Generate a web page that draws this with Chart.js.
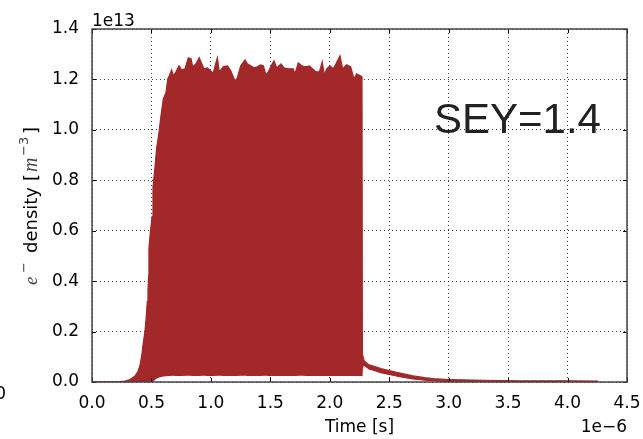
<!DOCTYPE html>
<html>
<head>
<meta charset="utf-8">
<script src="https://cdn.jsdelivr.net/npm/chart.js@4/dist/chart.umd.min.js"></script>
<style>
  html, body { margin: 0; padding: 0; background: #fff; }
  canvas { display: block; }
</style>
</head>
<body>
<canvas id="densityChart" width="643" height="439"></canvas>
<script>
// time in units of 1e-6 s, density in units of 1e13 m^-3
const timeE6 = [
  0.000, 0.100, 0.200, 0.235, 0.278, 0.320, 0.362, 0.385, 0.404, 0.420,
  0.429, 0.445, 0.454, 0.465, 0.471, 0.476, 0.479, 0.492, 0.505, 0.513,
  0.530, 0.544, 0.563, 0.578, 0.600, 0.622, 0.637, 0.650, 0.670, 0.684,
  0.706, 0.732, 0.754, 0.782, 0.810, 0.833, 0.847, 0.875, 0.902, 0.923,
  0.942, 0.970, 0.998, 1.020, 1.054, 1.071, 1.104, 1.141, 1.167, 1.203,
  1.222, 1.251, 1.287, 1.306, 1.335, 1.362, 1.390, 1.419, 1.441, 1.463,
  1.483, 1.511, 1.531, 1.553, 1.590, 1.615, 1.651, 1.693, 1.707, 1.735,
  1.764, 1.800, 1.828, 1.856, 1.884, 1.912, 1.937, 1.954, 1.974, 2.002,
  2.029, 2.052, 2.086, 2.108, 2.142, 2.176, 2.204, 2.226, 2.260, 2.271,
  2.274, 2.290, 2.330, 2.380, 2.430, 2.500, 2.600, 2.700, 2.800, 2.900,
  3.000, 3.300, 3.600, 4.000, 4.256
];
const upperE13 = [
  0.000, 0.000, 0.001, 0.002, 0.004, 0.010, 0.024, 0.040, 0.067, 0.110,
  0.147, 0.200, 0.246, 0.320, 0.365, 0.420, 0.532, 0.600, 0.655, 0.774,
  0.853, 0.929, 0.988, 1.048, 1.124, 1.147, 1.202, 1.215, 1.238, 1.214,
  1.230, 1.254, 1.238, 1.242, 1.286, 1.282, 1.250, 1.262, 1.286, 1.262,
  1.242, 1.246, 1.234, 1.226, 1.286, 1.230, 1.250, 1.254, 1.234, 1.194,
  1.206, 1.254, 1.278, 1.262, 1.254, 1.246, 1.250, 1.258, 1.254, 1.218,
  1.230, 1.258, 1.274, 1.246, 1.262, 1.246, 1.242, 1.242, 1.222, 1.266,
  1.254, 1.250, 1.254, 1.242, 1.230, 1.230, 1.270, 1.218, 1.242, 1.254,
  1.242, 1.262, 1.294, 1.242, 1.258, 1.250, 1.202, 1.222, 1.214, 1.210,
  0.110, 0.083, 0.068, 0.061, 0.053, 0.045, 0.034, 0.024, 0.017, 0.012,
  0.010, 0.007, 0.005, 0.005, 0.004
];
const lowerE13 = [
  0.000, 0.000, 0.000, 0.000, 0.000, 0.000, 0.000, 0.000, 0.000, 0.000,
  0.000, 0.000, 0.000, 0.000, 0.000, 0.000, 0.000, 0.000, 0.000, 0.004,
  0.012, 0.016, 0.020, 0.022, 0.024, 0.025, 0.026, 0.026, 0.027, 0.027,
  0.026, 0.027, 0.026, 0.027, 0.028, 0.027, 0.026, 0.027, 0.026, 0.027,
  0.028, 0.026, 0.027, 0.026, 0.027, 0.028, 0.026, 0.027, 0.026, 0.027,
  0.026, 0.027, 0.028, 0.026, 0.027, 0.026, 0.027, 0.026, 0.027, 0.028,
  0.026, 0.027, 0.026, 0.027, 0.026, 0.027, 0.026, 0.027, 0.026, 0.027,
  0.028, 0.026, 0.027, 0.026, 0.027, 0.026, 0.027, 0.026, 0.027, 0.026,
  0.027, 0.026, 0.027, 0.026, 0.027, 0.026, 0.027, 0.026, 0.027, 0.026,
  0.062, 0.066, 0.052, 0.045, 0.037, 0.030, 0.020, 0.012, 0.007, 0.004,
  0.002, 0.001, 0.000, 0.000, 0.000
];
const xTicks = [0, 0.5, 1, 1.5, 2, 2.5, 3, 3.5, 4, 4.5];
const yTicks = [0, 0.2, 0.4, 0.6, 0.8, 1.0, 1.2, 1.4];

const red = '#a3282a';
const tickFont = { family: 'DejaVu Sans', size: 17 };

const toPoints = ys => timeE6.map((t, i) => ({ x: t, y: ys[i] }));

// y axis label pieces (mathtext style), placed by their start row
const yLabelPieces = [
  { s: 'e', f: 'italic 19px "Liberation Serif"', at: 285, dy: 0, c: '#444' },
  { s: '\u2212', f: '13px "DejaVu Sans"', at: 273, dy: -9, c: '#444' },
  { s: 'density', f: '18px "DejaVu Sans"', at: 253, dy: 0, c: '#000' },
  { s: '[', f: '18px "DejaVu Sans"', at: 181, dy: 0, c: '#000' },
  { s: 'm', f: 'italic 20px "Liberation Serif"', at: 172, dy: 0, c: '#444' },
  { s: '\u22123', f: '13px "DejaVu Sans"', at: 156, dy: -9, c: '#444' },
  { s: ']', f: '18px "DejaVu Sans"', at: 134, dy: 0, c: '#000' }
];

// frame, inward ticks and all the text around the axes
const decorations = {
  id: 'decorations',
  afterDraw(chart) {
    const { ctx, chartArea: a, scales } = chart;
    ctx.save();

    // inward tick marks on all four sides
    ctx.strokeStyle = '#000';
    ctx.lineWidth = 1;
    ctx.beginPath();
    xTicks.forEach(v => {
      const x = Math.round(scales.x.getPixelForValue(v)) + 0.5;
      ctx.moveTo(x, a.bottom); ctx.lineTo(x, a.bottom - 4);
      ctx.moveTo(x, a.top); ctx.lineTo(x, a.top + 4);
    });
    yTicks.forEach(v => {
      const y = Math.round(scales.y.getPixelForValue(v)) + 0.5;
      ctx.moveTo(a.left, y); ctx.lineTo(a.left + 4, y);
      ctx.moveTo(a.right, y); ctx.lineTo(a.right - 4, y);
    });
    ctx.stroke();

    ctx.strokeStyle = '#444';
    ctx.lineWidth = 1.5;
    ctx.strokeRect(a.left, a.top, a.right - a.left, a.bottom - a.top);

    ctx.fillStyle = '#000';
    ctx.textBaseline = 'alphabetic';
    ctx.font = '17px "DejaVu Sans"';
    ctx.textAlign = 'left';
    ctx.fillText('1e13', a.left, 26);
    ctx.textAlign = 'right';
    ctx.fillText('1e\u22126', a.right, 432);
    ctx.fillText('0', 6, 399);
    ctx.textAlign = 'center';
    ctx.fillText('Time [s]', (a.left + a.right) / 2, 432);

    // rotated y label, read bottom to top
    ctx.translate(37, 0);
    ctx.rotate(-Math.PI / 2);
    ctx.textAlign = 'left';
    yLabelPieces.forEach(p => {
      ctx.font = p.f;
      ctx.fillStyle = p.c;
      ctx.fillText(p.s, -p.at, p.dy);
    });
    ctx.restore();

    ctx.save();
    ctx.fillStyle = '#222';
    ctx.font = '42px "Liberation Sans"';
    ctx.textAlign = 'left';
    ctx.fillText('SEY=1.4', 434, 133);
    ctx.restore();
  }
};

new Chart(document.getElementById('densityChart'), {
  type: 'line',
  data: {
    datasets: [{
      label: 'upper',
      data: toPoints(upperE13),
      borderColor: red,
      backgroundColor: red,
      borderWidth: 1.2,
      pointRadius: 0,
      tension: 0,
      fill: '+1'
    }, {
      label: 'lower',
      data: toPoints(lowerE13),
      borderColor: red,
      backgroundColor: red,
      borderWidth: 1.2,
      pointRadius: 0,
      tension: 0,
      fill: false
    }]
  },
  options: {
    responsive: false,
    animation: false,
    layout: { padding: { left: 0, right: 16, top: 29, bottom: 0 } },
    plugins: {
      legend: { display: false },
      tooltip: { enabled: false }
    },
    scales: {
      x: {
        type: 'linear',
        min: 0,
        max: 4.5,
        z: 1,
        afterFit: s => { s.height = 57; s.paddingLeft = 0; s.paddingRight = 0; },
        afterBuildTicks: s => { s.ticks = xTicks.map(v => ({ value: v })); },
        ticks: {
          color: '#000',
          font: tickFont,
          padding: 11,
          maxRotation: 0,
          callback: v => v.toFixed(1)
        },
        grid: { color: 'rgba(0,0,0,0.75)', lineWidth: 1, drawTicks: false },
        border: { display: false, dash: [1, 3] }
      },
      y: {
        min: 0,
        max: 1.4,
        z: 1,
        afterFit: s => { s.width = 92; s.paddingTop = 0; s.paddingBottom = 0; },
        afterBuildTicks: s => { s.ticks = yTicks.map(v => ({ value: v })); },
        ticks: {
          color: '#000',
          font: tickFont,
          padding: 13,
          callback: v => v.toFixed(1)
        },
        grid: { color: 'rgba(0,0,0,0.75)', lineWidth: 1, drawTicks: false },
        border: { display: false, dash: [1, 3] }
      }
    }
  },
  plugins: [decorations]
});
</script>
</body>
</html>
